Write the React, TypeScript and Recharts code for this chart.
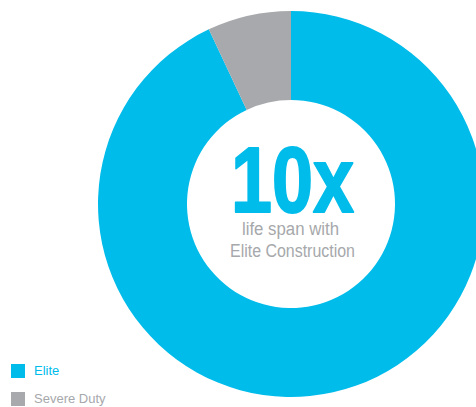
import React from "react";
import { PieChart, Pie, Cell, Label, Legend } from "recharts";

const categories = ["Elite", "Severe Duty"];
const values = [93, 7];
const colors = ["#00BCEB", "#A7A9AC"];
const headline = "10x";
const subLines = ["life span with", "Elite Construction"];

const data = categories.map((name, i) => ({ name, value: values[i] }));

const CenterLabel = (props: any) => {
  const vb = props.viewBox || {};
  const cx = vb.cx ?? 291;
  const cy = vb.cy ?? 204;
  return (
    <g>
      <text
        x={cx + 1.5}
        y={cy + 7.5}
        textAnchor="middle"
        fontFamily="'Liberation Sans', Arial, sans-serif"
        fontWeight="bold"
        fontSize={92}
        fill={colors[0]}
        stroke={colors[0]}
        strokeWidth={2}
        strokeLinejoin="round"
        textLength={123}
        lengthAdjust="spacingAndGlyphs"
      >
        {headline}
      </text>
      <text
        x={cx - 0.5}
        y={cy + 31}
        textAnchor="middle"
        fontFamily="'Liberation Sans', Arial, sans-serif"
        fontSize={18}
        fill="#A6A8AB"
        textLength={97}
        lengthAdjust="spacingAndGlyphs"
      >
        {subLines[0]}
      </text>
      <text
        x={cx + 1.5}
        y={cy + 53}
        textAnchor="middle"
        fontFamily="'Liberation Sans', Arial, sans-serif"
        fontSize={18}
        fill="#A6A8AB"
        textLength={125}
        lengthAdjust="spacingAndGlyphs"
      >
        {subLines[1]}
      </text>
    </g>
  );
};

const renderLegend = () => (
  <div style={{ fontFamily: "'Liberation Sans', Arial, sans-serif" }}>
    {categories.map((c, i) => (
      <div
        key={c}
        style={{ display: "flex", alignItems: "center", height: 14, marginBottom: i === 0 ? 14 : 0 }}
      >
        <div style={{ width: 14, height: 14, background: colors[i], marginRight: 9 }} />
        <span style={{ fontSize: 13, color: i === 0 ? colors[0] : "#A6A8AB", lineHeight: "14px" }}>{c}</span>
      </div>
    ))}
  </div>
);

export default function App() {
  return (
    <div style={{ position: "absolute", left: 0, top: 0, width: 476, height: 407, background: "#fff" }}>
      <PieChart width={476} height={407} margin={{ top: 0, right: 0, bottom: 0, left: 0 }}>
        <Pie
          data={data}
          dataKey="value"
          nameKey="name"
          cx={291}
          cy={204}
          innerRadius={104}
          outerRadius={193}
          startAngle={90}
          endAngle={-270}
          stroke="none"
          isAnimationActive={false}
        >
          {data.map((d, i) => (
            <Cell key={d.name} fill={colors[i]} />
          ))}
          <Label position="center" content={<CenterLabel />} />
        </Pie>
        <Legend
          content={renderLegend}
          wrapperStyle={{ position: "absolute", left: 11, top: 364, width: 150, height: 42 }}
        />
      </PieChart>
    </div>
  );
}
